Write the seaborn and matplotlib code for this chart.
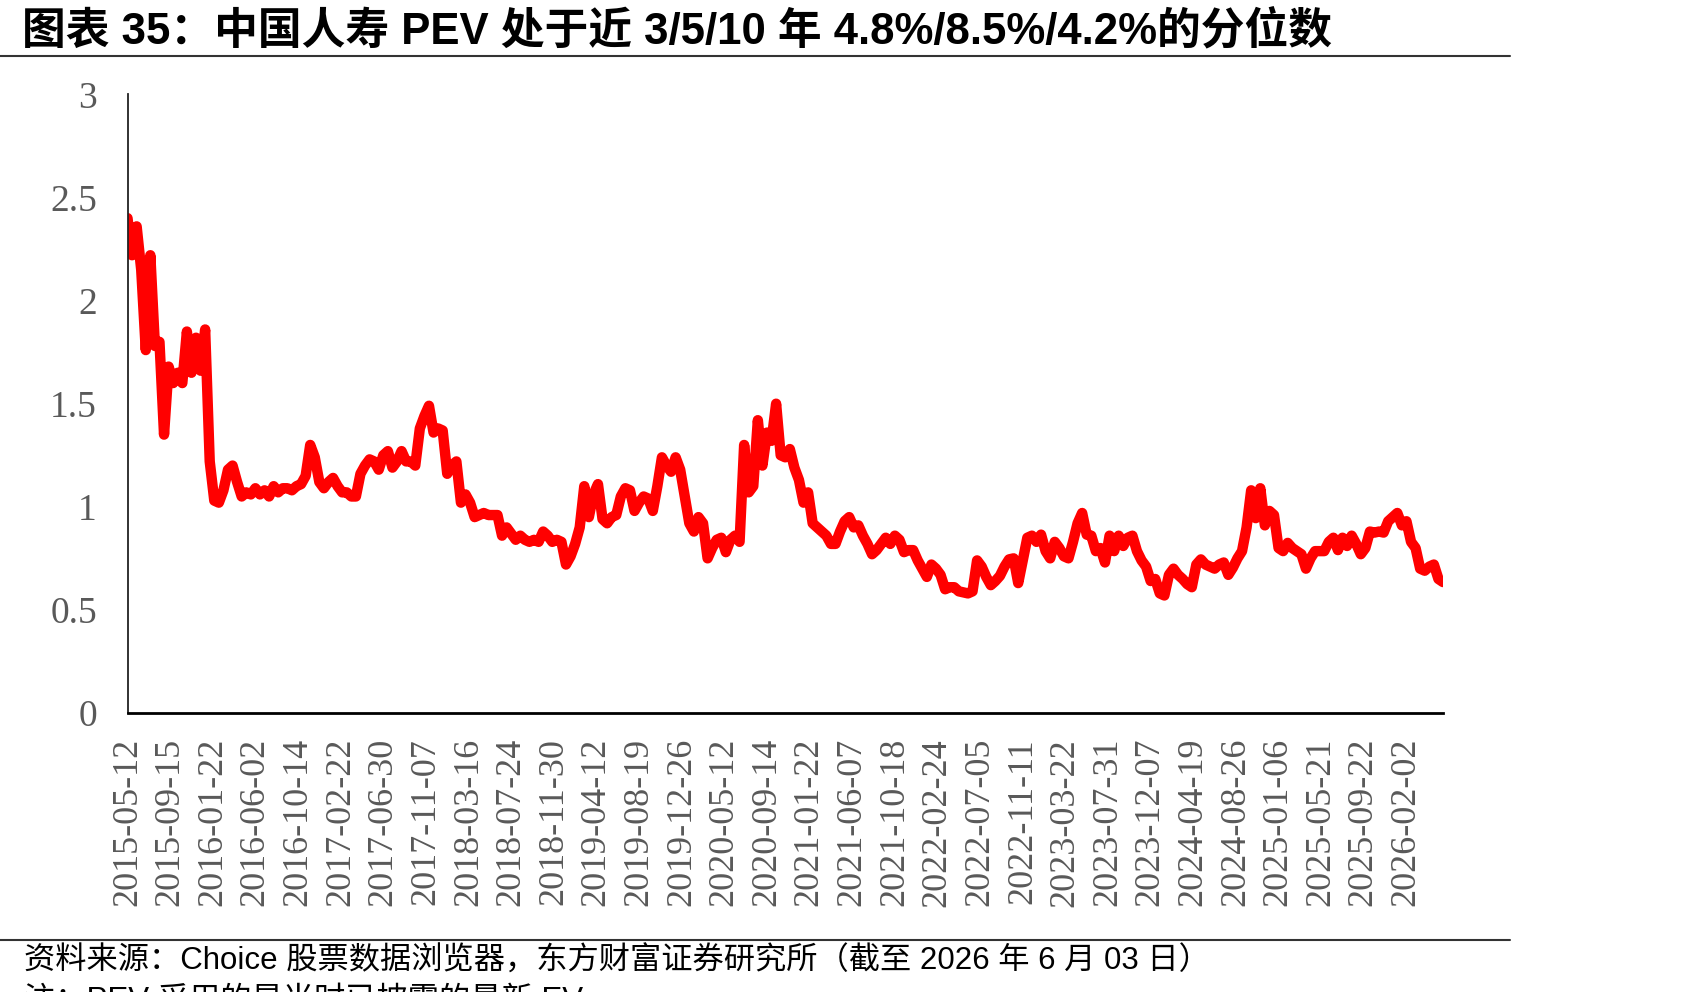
import numpy as np
import matplotlib
matplotlib.use("Agg")
import matplotlib.pyplot as plt
from matplotlib.lines import Line2D
import seaborn as sns

sns.set_style("white")

title = "图表 35：中国人寿 PEV 处于近 3/5/10 年 4.8%/8.5%/4.2%的分位数"
source = "资料来源：Choice 股票数据浏览器，东方财富证券研究所（截至 2026 年 6 月 03 日）"
note = "注：PEV 采用的是当时已披露的最新 EV"

tick_labels = [
    "2015-05-12", "2015-09-15", "2016-01-22", "2016-06-02", "2016-10-14",
    "2017-02-22", "2017-06-30", "2017-11-07", "2018-03-16", "2018-07-24",
    "2018-11-30", "2019-04-12", "2019-08-19", "2019-12-26", "2020-05-12",
    "2020-09-14", "2021-01-22", "2021-06-07", "2021-10-18", "2022-02-24",
    "2022-07-05", "2022-11-11", "2023-03-22", "2023-07-31", "2023-12-07",
    "2024-04-19", "2024-08-26", "2025-01-06", "2025-05-21", "2025-09-22",
    "2026-02-02",
]
# last data day (2026-06-03) sits this many label steps after 2015-05-12
last_pos = 30.87

# PEV readings, evenly spaced from 2015-05-12 to 2026-06-03
pev = [
    2.40, 2.22, 2.36, 2.15, 1.76, 2.22, 1.78, 1.80, 1.35, 1.68,
    1.60, 1.65, 1.60, 1.85, 1.65, 1.82, 1.66, 1.86, 1.22, 1.03,
    1.02, 1.08, 1.18, 1.20, 1.12, 1.05, 1.07, 1.06, 1.09, 1.06,
    1.08, 1.05, 1.10, 1.07, 1.09, 1.09, 1.08, 1.10, 1.11, 1.15,
    1.30, 1.24, 1.12, 1.09, 1.12, 1.14, 1.10, 1.07, 1.07, 1.05,
    1.05, 1.16, 1.20, 1.23, 1.22, 1.18, 1.25, 1.27, 1.19, 1.22,
    1.27, 1.22, 1.22, 1.20, 1.38, 1.44, 1.49, 1.36, 1.38, 1.37,
    1.16, 1.20, 1.22, 1.02, 1.06, 1.02, 0.95, 0.96, 0.97, 0.96,
    0.96, 0.96, 0.86, 0.90, 0.87, 0.84, 0.86, 0.84, 0.83, 0.84,
    0.83, 0.88, 0.86, 0.83, 0.84, 0.83, 0.72, 0.76, 0.82, 0.90,
    1.10, 0.95, 1.06, 1.11, 0.94, 0.92, 0.95, 0.96, 1.05, 1.09,
    1.08, 0.98, 1.02, 1.05, 1.04, 0.98, 1.10, 1.24, 1.20, 1.17,
    1.24, 1.18, 1.05, 0.92, 0.88, 0.95, 0.92, 0.75, 0.80, 0.84,
    0.85, 0.78, 0.84, 0.86, 0.83, 1.30, 1.07, 1.10, 1.42, 1.20,
    1.36, 1.32, 1.50, 1.25, 1.24, 1.28, 1.19, 1.13, 1.02, 1.07,
    0.92, 0.90, 0.88, 0.86, 0.82, 0.82, 0.88, 0.93, 0.95, 0.90,
    0.91, 0.86, 0.82, 0.77, 0.79, 0.82, 0.85, 0.82, 0.86, 0.84,
    0.78, 0.79, 0.79, 0.74, 0.70, 0.66, 0.72, 0.70, 0.67, 0.60,
    0.61, 0.61, 0.59, 0.585, 0.58, 0.59, 0.74, 0.71, 0.66, 0.62,
    0.64, 0.665, 0.71, 0.745, 0.75, 0.63, 0.74, 0.85, 0.86, 0.83,
    0.865, 0.785, 0.75, 0.83, 0.80, 0.76, 0.75, 0.83, 0.92, 0.97,
    0.865, 0.86, 0.785, 0.80, 0.73, 0.86, 0.785, 0.86, 0.81, 0.85,
    0.86, 0.785, 0.74, 0.71, 0.64, 0.65, 0.58, 0.57, 0.67, 0.70,
    0.67, 0.65, 0.625, 0.61, 0.72, 0.745, 0.72, 0.71, 0.70, 0.72,
    0.73, 0.67, 0.705, 0.75, 0.785, 0.90, 1.08, 0.945, 1.09, 0.91,
    0.98, 0.96, 0.80, 0.785, 0.825, 0.80, 0.785, 0.77, 0.70, 0.75,
    0.785, 0.785, 0.785, 0.83, 0.85, 0.79, 0.85, 0.81, 0.86, 0.82,
    0.77, 0.80, 0.88, 0.875, 0.88, 0.875, 0.93, 0.95, 0.97, 0.91,
    0.93, 0.83, 0.80, 0.70, 0.69, 0.71, 0.72, 0.65, 0.635,
]
y_ticks = [0, 0.5, 1, 1.5, 2, 2.5, 3]
y_tick_labels = ["0", "0.5", "1", "1.5", "2", "2.5", "3"]

cjk = ["Liberation Sans", "Noto Sans CJK SC"]
serif = ["Liberation Serif", "DejaVu Serif"]

W, H = 1701, 992
fig = plt.figure(figsize=(W / 100, H / 100), dpi=100)
ax = fig.add_axes([127.5 / W, 1 - 713 / H, (1443 - 127.5) / W, (713 - 94.4) / H])

x = np.linspace(0, last_pos, len(pev))
sns.lineplot(x=x, y=pev, ax=ax, color="#FF0000", linewidth=7.5,
             solid_capstyle="round", solid_joinstyle="round")

ax.set_xlim(0, last_pos)
ax.set_ylim(0, 3)
ax.set_xticks(np.arange(len(tick_labels)))
ax.set_xticklabels(tick_labels, rotation=90, family=serif, fontsize=26,
                   color="#595959", va="top", ha="center")
ax.set_yticks(y_ticks)
ax.set_yticklabels(y_tick_labels, family=serif, fontsize=27, color="#595959")
ax.tick_params(axis="x", length=0, pad=18)
ax.tick_params(axis="y", length=7, width=1.3, color="#222222", pad=15, direction="out")

for side in ("top", "right"):
    ax.spines[side].set_visible(False)
ax.spines["left"].set_linewidth(1.3)
ax.spines["left"].set_color("#222222")
ax.spines["bottom"].set_linewidth(2.0)
ax.spines["bottom"].set_color("black")

fig.text(22 / W, 1 - 31 / H, title, family=cjk, weight="bold", fontsize=31.5,
         va="center", ha="left", color="black")
fig.add_artist(Line2D([0, 1510 / W], [1 - 56 / H, 1 - 56 / H],
                      transform=fig.transFigure, color="#333333", linewidth=1.5))
fig.add_artist(Line2D([0, 1510 / W], [1 - 939.5 / H, 1 - 939.5 / H],
                      transform=fig.transFigure, color="#333333", linewidth=1.5))
fig.text(24 / W, 1 - 962 / H, source, family=cjk, fontsize=22.5,
         va="center", ha="left", color="black")
fig.text(24 / W, 1 - 986 / H, note, family=cjk, fontsize=22.5,
         va="top", ha="left", color="black")

fig.savefig("out.png", dpi=100, facecolor="white")
